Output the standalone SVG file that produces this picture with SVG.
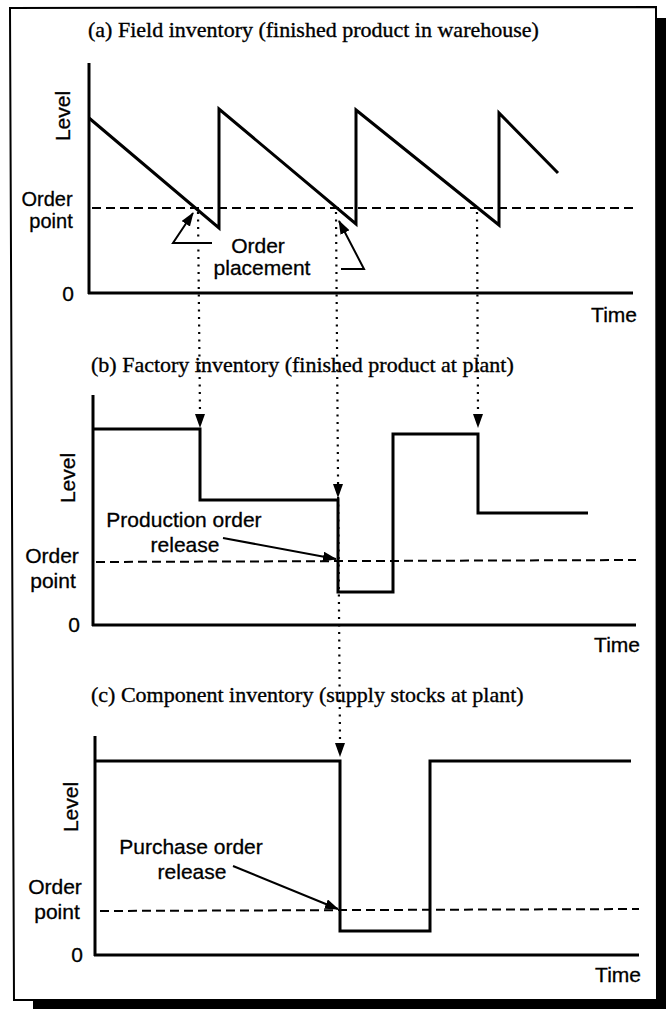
<svg xmlns="http://www.w3.org/2000/svg" width="666" height="1009" viewBox="0 0 666 1009">
<style>
.title{font-family:"Liberation Serif","Times New Roman",serif;font-size:22px;fill:#000;stroke:#000;stroke-width:0.35}
.lbl{font-family:"Liberation Sans",Arial,sans-serif;font-size:21px;fill:#000;stroke:#000;stroke-width:0.3}
.sm{font-size:20px}
.mid{text-anchor:middle}
.end{text-anchor:end}
.axis{stroke:#000;stroke-width:3;fill:none}
.curve{stroke:#000;stroke-width:3;fill:none;stroke-linejoin:miter}
.dash{stroke:#000;stroke-width:2;stroke-dasharray:9 5;fill:none}
.dot{stroke:#000;stroke-width:2.2;stroke-dasharray:2 5.5;fill:none}
.ann{stroke:#000;stroke-width:2;fill:none}
</style>
<defs>
<marker id="ah" markerUnits="userSpaceOnUse" markerWidth="14" markerHeight="10" refX="13" refY="5" orient="auto">
<path d="M0,0 L14,5 L0,10 Z" fill="#000"/>
</marker>
<path id="down" d="M-5,-14 L5,-14 L0,0 Z" fill="#000"/>
</defs>
<rect width="666" height="1009" fill="#fff"/>
<g id="frame">
<path d="M10,8 L656,7 L657,1000 L14,1000 Z" fill="none" stroke="#000" stroke-width="2"/>
<rect x="657" y="18" width="9" height="991" fill="#000"/>
<rect x="33" y="1000" width="633" height="9" fill="#000"/>
</g>
<g id="panel-a">
<text class="title" x="88" y="37">(a) Field inventory (finished product in warehouse)</text>
<line class="axis" x1="89" y1="63" x2="89" y2="294"/>
<line class="axis" x1="88" y1="293" x2="633" y2="293"/>
<line class="dash" x1="92" y1="208" x2="633" y2="208"/>
<polyline class="curve" points="89,118 219,228 219,109 356,224 356,110 499,225 499,113 558,173"/>
<text class="lbl mid" transform="translate(70,116) rotate(-90)">Level</text>
<text class="lbl sm mid" x="47" y="206">Order</text>
<text class="lbl sm mid" x="51" y="228">point</text>
<text class="lbl mid" x="68" y="301">0</text>
<text class="lbl end" x="637" y="322">Time</text>
<text class="lbl mid" x="258" y="253">Order</text>
<text class="lbl mid" x="262" y="275">placement</text>
</g>
<g id="panel-b">
<text class="title" x="91" y="372">(b) Factory inventory (finished product at plant)</text>
<line class="axis" x1="93" y1="395" x2="93" y2="626"/>
<line class="axis" x1="92" y1="625" x2="636" y2="625"/>
<line class="dash" x1="96" y1="562" x2="636" y2="560"/>
<polyline class="curve" points="93,429 200,429 200,500 338,500 338,592 393,592 393,434 478,434 478,513 588,513"/>
<text class="lbl mid" transform="translate(75,478) rotate(-90)">Level</text>
<text class="lbl mid" x="52" y="563">Order</text>
<text class="lbl mid" x="53" y="588">point</text>
<text class="lbl mid" x="74" y="632">0</text>
<text class="lbl end" x="640" y="652">Time</text>
<text class="lbl mid" x="184" y="527">Production order</text>
<text class="lbl mid" x="185" y="552">release</text>
</g>
<g id="panel-c">
<text class="title" x="91" y="702">(c) Component inventory (supply stocks at plant)</text>
<line class="axis" x1="95" y1="736" x2="95" y2="956"/>
<line class="axis" x1="94" y1="955" x2="639" y2="955"/>
<line class="dash" x1="100" y1="911" x2="639" y2="909"/>
<polyline class="curve" points="95,761 340,761 340,931 430,931 430,761 631,761"/>
<text class="lbl mid" transform="translate(78,807) rotate(-90)">Level</text>
<text class="lbl mid" x="55" y="894">Order</text>
<text class="lbl mid" x="57" y="919">point</text>
<text class="lbl mid" x="77" y="962">0</text>
<text class="lbl end" x="641" y="982">Time</text>
<text class="lbl mid" x="191" y="854">Purchase order</text>
<text class="lbl mid" x="192" y="879">release</text>
</g>
<g id="connectors">
<line class="dot" x1="198" y1="212" x2="200" y2="414"/>
<line class="dot" x1="336" y1="212" x2="340" y2="742"/>
<line class="dot" x1="477" y1="212" x2="478" y2="413"/>
<use href="#down" x="200" y="428"/>
<use href="#down" x="338" y="498"/>
<use href="#down" x="478" y="428"/>
<use href="#down" x="340" y="757"/>
<polyline class="ann" points="212,243 173,243 193,213" marker-end="url(#ah)"/>
<polyline class="ann" points="341,269 364,269 339,221" marker-end="url(#ah)"/>
<line class="ann" x1="223" y1="538" x2="336" y2="559" marker-end="url(#ah)"/>
<line class="ann" x1="233" y1="866" x2="338" y2="909" marker-end="url(#ah)"/>
</g>
</svg>
